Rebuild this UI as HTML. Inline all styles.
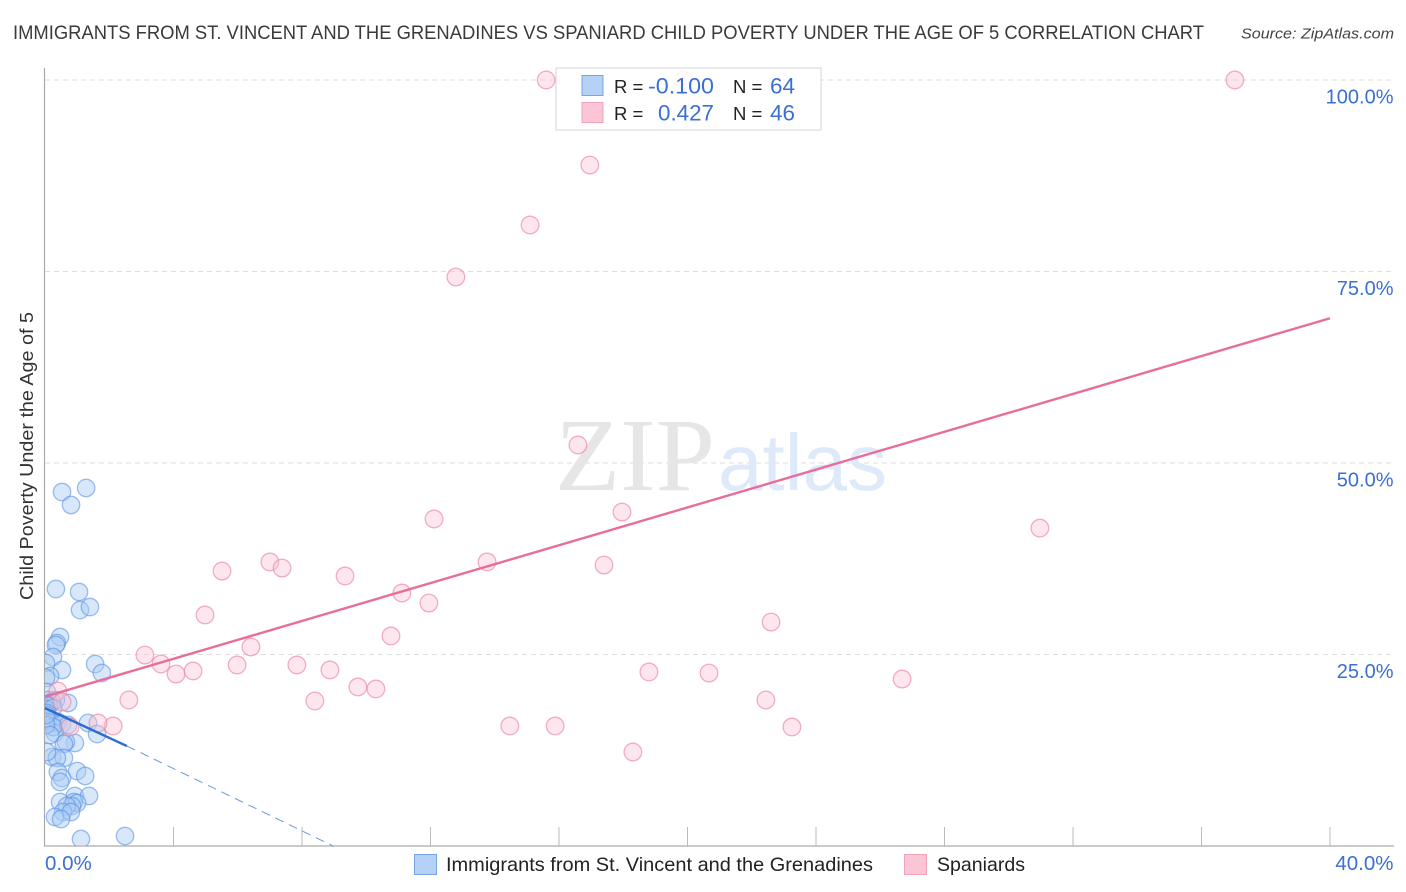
<!DOCTYPE html>
<html lang="en">
<head>
<meta charset="utf-8">
<title>Child Poverty Correlation Chart</title>
<style>
  html, body { margin: 0; padding: 0; background: #fff; }
  svg { display: block; font-family: "Liberation Sans", sans-serif; }
</style>
</head>
<body>
<svg id="chart" xmlns="http://www.w3.org/2000/svg" width="1406" height="892" viewBox="0 0 1406 892">
  <defs>
    <clipPath id="plot-clip"><rect x="45" y="60" width="1361" height="786"></rect></clipPath>
  </defs>
  <rect x="0" y="0" width="1406" height="892" fill="#ffffff"></rect>
  <text x="13" y="39" font-size="19.5" fill="#3a3a3a" textLength="1191" lengthAdjust="spacingAndGlyphs">IMMIGRANTS FROM ST. VINCENT AND THE GRENADINES VS SPANIARD CHILD POVERTY UNDER THE AGE OF 5 CORRELATION CHART</text>
  <text x="1241" y="38.5" font-size="15" font-style="italic" fill="#444444" textLength="153" lengthAdjust="spacingAndGlyphs">Source: ZipAtlas.com</text>
  <text transform="translate(33,600) rotate(-90)" font-size="18.5" fill="#333333" textLength="288" lengthAdjust="spacingAndGlyphs">Child Poverty Under the Age of 5</text>

  <g id="grid"></g>
  <g>
    <text x="555" y="490" font-family="'Liberation Serif', serif" font-size="104" fill="#e6e6e6" textLength="160" lengthAdjust="spacingAndGlyphs">ZIP</text>
    <text x="718" y="490" font-size="80" fill="#deeaf9" textLength="169" lengthAdjust="spacingAndGlyphs">atlas</text>
  </g>
  <g id="axes"></g>
  <g id="points-blue" clip-path="url(#plot-clip)"></g>
  <g id="points-pink" clip-path="url(#plot-clip)"></g>
  <g id="trends"></g>
  <g id="labels"></g>

  <g>
    <rect x="556" y="68" width="265" height="62" fill="#ffffff" fill-opacity="0.84" stroke="#d4d4d4" stroke-width="1"></rect>
    <rect x="582" y="75.5" width="21" height="20" fill="#b5d1f6" stroke="#77a4e2" stroke-width="1"></rect>
    <rect x="582" y="102.5" width="21" height="20" fill="#fcc5d6" stroke="#f0a3ba" stroke-width="1"></rect>
    <text x="614" y="93" font-size="18.5" fill="#222222">R =</text>
    <text x="714" y="93.5" font-size="22" fill="#3a70d4" text-anchor="end" textLength="66" lengthAdjust="spacingAndGlyphs">-0.100</text>
    <text x="733" y="93" font-size="18.5" fill="#222222">N =</text>
    <text x="795" y="93.5" font-size="22" fill="#3a70d4" text-anchor="end" textLength="25" lengthAdjust="spacingAndGlyphs">64</text>
    <text x="614" y="120" font-size="18.5" fill="#222222">R =</text>
    <text x="714" y="120.5" font-size="22" fill="#3a70d4" text-anchor="end" textLength="56" lengthAdjust="spacingAndGlyphs">0.427</text>
    <text x="733" y="120" font-size="18.5" fill="#222222">N =</text>
    <text x="795" y="120.5" font-size="22" fill="#3a70d4" text-anchor="end" textLength="25" lengthAdjust="spacingAndGlyphs">46</text>
  </g>

  <g>
    <rect x="414.5" y="854.5" width="22" height="20" fill="#b5d1f6" stroke="#77a4e2" stroke-width="1"></rect>
    <text x="446" y="871" font-size="19.5" fill="#222222" textLength="427" lengthAdjust="spacingAndGlyphs">Immigrants from St. Vincent and the Grenadines</text>
    <rect x="904.5" y="854.5" width="22" height="20" fill="#fcc5d6" stroke="#f0a3ba" stroke-width="1"></rect>
    <text x="937" y="871" font-size="19.5" fill="#222222" textLength="88" lengthAdjust="spacingAndGlyphs">Spaniards</text>
  </g>
</svg>
<script>
const blueX = [0.53,1.28,0.81,0.34,1.06,1.09,1.40,0.47,0.37,0.34,0.25,0.53,1.56,1.77,0.03,0.16,0.03,0.06,0.72,0.34,0.09,0.22,0.03,0.12,0.03,0.25,0.06,0.40,0.09,0.22,0.53,0.72,1.34,1.62,0.31,0.25,0.93,0.65,0.59,0.22,0.59,0.37,1.00,1.25,0.40,0.53,0.47,0.93,1.37,0.47,0.90,1.00,0.84,0.68,0.56,0.81,0.31,0.50,1.12,2.49,0.03,0.16,0.06,0.03];
const blueY = [46.21,46.74,44.52,33.55,33.16,30.81,31.20,27.28,26.50,26.24,24.67,22.98,23.76,22.58,23.89,22.19,21.93,20.10,18.67,19.06,19.06,18.80,18.54,18.28,17.89,18.02,17.36,16.19,16.19,16.06,15.93,15.80,16.06,14.62,14.75,15.54,13.45,13.58,13.32,11.62,11.49,11.49,9.79,9.14,9.66,8.88,8.36,6.53,6.53,5.74,5.74,5.61,5.22,5.22,4.44,4.44,3.79,3.52,0.91,1.31,15.80,14.49,12.27,17.10];
const pinkX = [15.60,19.89,37.04,16.96,15.10,12.79,16.59,12.11,17.96,30.97,13.76,17.40,5.51,7.00,7.38,9.34,11.11,11.95,4.98,10.77,22.60,6.41,3.11,3.61,4.08,4.61,5.98,7.84,8.87,18.80,20.67,26.68,9.74,10.30,2.61,8.40,22.44,14.47,15.88,23.25,2.12,1.65,18.30,0.40,0.53,0.78];
const pinkY = [100,100,100,88.9,81.07,74.28,52.35,42.69,43.6,41.5,37.08,36.68,35.9,37.08,36.29,35.25,33.03,31.72,30.16,27.42,29.24,25.98,24.93,23.76,22.45,22.85,23.63,23.63,22.98,22.72,22.58,21.8,20.76,20.5,19.06,18.93,19.06,15.67,15.67,15.54,15.67,16.06,12.27,20.23,18.8,15.54];
const yTickValues = [100, 75, 50, 25];
const yTickLabels = ["100.0%", "75.0%", "50.0%", "25.0%"];
const xTickValues = [4, 8, 12, 16, 20, 24, 28, 32, 36, 40];
const xMinorValues = [0, 40];
const xEdgeLabels = ["0.0%", "40.0%"];
const pinkTrendX = [0, 40];
const pinkTrendY = [19.5, 68.9];
const blueTrendX = [0, 2.55];
const blueTrendY = [18.0, 13.05];
const blueDashX = [2.55, 8.97];
const blueDashY = [13.05, 0];

const NS = 'http://www.w3.org/2000/svg';
function xPos(v) { return 45 + v * 32.125; }
function yPos(v) { return 846 - v * 7.66; }
function make(tag, attrs, parent) {
  const el = document.createElementNS(NS, tag);
  for (const k in attrs) el.setAttribute(k, attrs[k]);
  parent.appendChild(el);
  return el;
}

const grid = document.getElementById('grid');
const axes = document.getElementById('axes');
const labels = document.getElementById('labels');

yTickValues.forEach(function (v, i) {
  const g = make('line', { x1: 45, x2: 1394, y1: yPos(v), y2: yPos(v), stroke: '#dedede', 'stroke-width': 1, 'stroke-dasharray': '5 4' }, grid);
  
  
  const t = make('text', { x: 1393.5, y: yPos(v) + 23.5, 'font-size': 20, fill: '#3a70d4', 'text-anchor': 'end' }, labels);
  
  
  t.textContent = yTickLabels[i];
});

const yAxis = make('line', { x1: 44.5, x2: 44.5, y1: 68, y2: 846.5, stroke: '#aaaaaa', 'stroke-width': 1.2 }, axes);


const xAxis = make('line', { x1: 44, x2: 1394, y1: 846, y2: 846, stroke: '#aaaaaa', 'stroke-width': 1.2 }, axes);


xTickValues.forEach(function (v) {
  const tick = make('line', { x1: xPos(v), x2: xPos(v), y1: 827, y2: 846, stroke: '#bbbbbb', 'stroke-width': 1 }, axes);
  
  
});
xMinorValues.forEach(function (v, i) {
  const t = make('text', { x: i === 0 ? xPos(v) : 1393.5, y: 870, 'font-size': 20.5, fill: '#3a70d4', 'text-anchor': i === 0 ? 'start' : 'end' }, labels);
  
  
  t.textContent = xEdgeLabels[i];
});

const blueGroup = document.getElementById('points-blue');
blueX.forEach(function (v, i) {
  const c = make('circle', { cx: xPos(v), cy: yPos(blueY[i]), r: 8.7, fill: '#a9caf4', 'fill-opacity': 0.46, stroke: '#5b95e2', 'stroke-opacity': 0.6, 'stroke-width': 1.3 }, blueGroup);
  
  
});
const pinkGroup = document.getElementById('points-pink');
pinkX.forEach(function (v, i) {
  const c = make('circle', { cx: xPos(v), cy: yPos(pinkY[i]), r: 8.8, fill: '#fbc3d4', 'fill-opacity': 0.42, stroke: '#ea86a5', 'stroke-opacity': 0.65, 'stroke-width': 1.3 }, pinkGroup);
  
  
});

const trends = document.getElementById('trends');
const pinkLine = make('line', { x1: xPos(pinkTrendX[0]), y1: yPos(pinkTrendY[0]), x2: xPos(pinkTrendX[1]), y2: yPos(pinkTrendY[1]), stroke: '#e96d9c', 'stroke-width': 2.4 }, trends);


const blueLine = make('line', { x1: xPos(blueTrendX[0]), y1: yPos(blueTrendY[0]), x2: xPos(blueTrendX[1]), y2: yPos(blueTrendY[1]), stroke: '#2b6cd0', 'stroke-width': 2.4 }, trends);


const blueDash = make('line', { x1: xPos(blueDashX[0]), y1: yPos(blueDashY[0]), x2: xPos(blueDashX[1]), y2: yPos(blueDashY[1]), stroke: '#6a9ae0', 'stroke-width': 1, 'stroke-dasharray': '9 6' }, trends);


</script>
</body>
</html>
